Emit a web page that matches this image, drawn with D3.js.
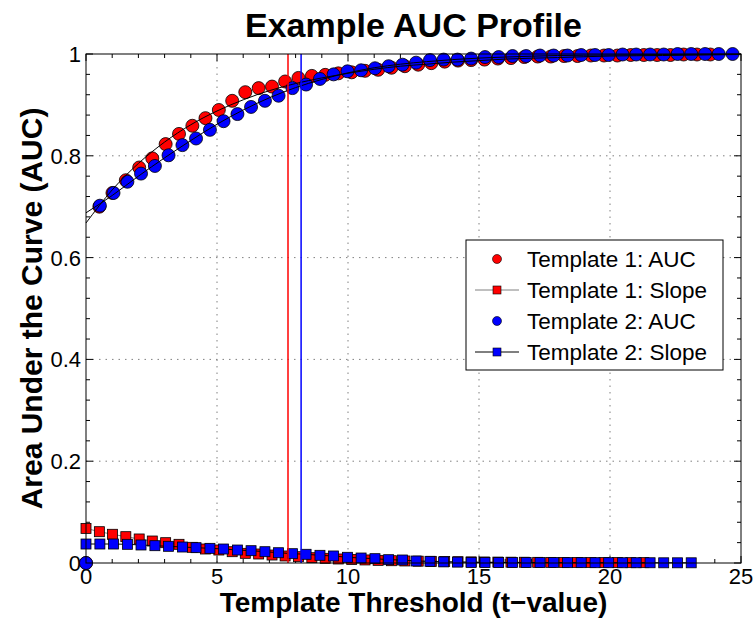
<!DOCTYPE html>
<html>
<head>
<meta charset="utf-8">
<script src="https://cdn.jsdelivr.net/npm/d3@7"></script>
<style>
  body { margin: 0; background: #fff; }
  svg { font-family: "Liberation Sans", Arial, Helvetica, sans-serif; }
</style>
</head>
<body>
<svg id="chart"></svg>
<script>
// thresholds (t-value) for each template
const thresholds1 = [0, 0.51, 1.01, 1.52, 2.03, 2.53, 3.04, 3.55, 4.06, 4.56, 5.07, 5.58, 6.08, 6.59, 7.10, 7.60,
  8.11, 8.62, 9.13, 9.63, 10.14, 10.65, 11.15, 11.66, 12.17, 12.68, 13.18, 13.69, 14.20, 14.70, 15.21, 15.72,
  16.22, 16.73, 17.24, 17.74, 18.25, 18.76, 19.27, 19.77, 20.28, 20.79, 21.29, 21.80, 22.31, 22.81, 23.32, 23.83];
const thresholds2 = [0, 0.53, 1.05, 1.58, 2.10, 2.63, 3.15, 3.68, 4.20, 4.73, 5.25, 5.78, 6.30, 6.83, 7.35, 7.88,
  8.40, 8.93, 9.45, 9.98, 10.50, 11.03, 11.55, 12.08, 12.60, 13.13, 13.65, 14.18, 14.70, 15.23, 15.75, 16.28,
  16.80, 17.33, 17.85, 18.38, 18.90, 19.43, 19.95, 20.48, 21.00, 21.53, 22.05, 22.58, 23.10, 23.63, 24.15, 24.68];

// AUC values
const auc1 = [0, 0.700, 0.727, 0.752, 0.777, 0.795, 0.823, 0.843, 0.859, 0.874, 0.890, 0.908, 0.925, 0.933, 0.936, 0.946,
  0.953, 0.957, 0.959, 0.962, 0.964, 0.967, 0.969, 0.973, 0.976, 0.979, 0.982, 0.985, 0.987, 0.988, 0.989, 0.991,
  0.992, 0.994, 0.995, 0.995, 0.996, 0.996, 0.997, 0.997, 0.997, 0.998, 0.998, 0.998, 0.998, 0.999, 0.999, 0.999];
const auc2 = [0, 0.702, 0.727, 0.749, 0.765, 0.780, 0.801, 0.821, 0.834, 0.851, 0.868, 0.882, 0.896, 0.908, 0.918, 0.933,
  0.940, 0.951, 0.960, 0.966, 0.968, 0.972, 0.976, 0.979, 0.983, 0.988, 0.989, 0.989, 0.991, 0.994, 0.994, 0.996,
  0.996, 0.997, 0.997, 0.997, 0.998, 0.998, 0.998, 0.999, 0.999, 0.999, 0.999, 1.000, 1.000, 1.000, 1.000, 1.000];

// slope of the AUC profile
const slope1 = [0.068, 0.0615, 0.0564, 0.0517, 0.0472, 0.0432, 0.0399, 0.0367, 0.0308, 0.0275, 0.0255, 0.0222, 0.019,
  0.0177, 0.0157, 0.0138, 0.0124, 0.0104, 0.0092, 0.0079, 0.007, 0.006, 0.0052, 0.0045, 0.004, 0.0036, 0.0032, 0.0028,
  0.0025, 0.0022, 0.002, 0.0018, 0.0016, 0.0015, 0.0013, 0.0012, 0.0011, 0.001, 0.0009, 0.0008, 0.0008, 0.0007, 0.0007];
const slope2 = [0.0373, 0.0373, 0.0373, 0.0367, 0.0354, 0.034, 0.0328, 0.0314, 0.0301, 0.0288, 0.0275, 0.0255, 0.0242,
  0.0222, 0.0202, 0.0183, 0.0171, 0.0151, 0.0138, 0.0112, 0.0098, 0.0085, 0.0065, 0.0059, 0.0039, 0.0033, 0.0022, 0.0018,
  0.0012, 0.001, 0.001, 0.0009, 0.0009, 0.0008, 0.0008, 0.0007, 0.0007, 0.0006, 0.0006, 0.0005, 0.0005, 0.0005, 0.0004,
  0.0004, 0.0004];

// fitted curves, sampled
const fitX = [0, 1, 2, 3, 4, 5, 6, 7, 8, 9, 10, 11, 12, 13, 14, 15, 16, 18, 20, 22, 25];
const fit1 = [0.668, 0.733, 0.785, 0.827, 0.861, 0.888, 0.910, 0.928, 0.942, 0.953, 0.962, 0.970, 0.976, 0.980, 0.984,
  0.987, 0.990, 0.993, 0.996, 0.997, 0.999];
const fit2 = [0.688, 0.722, 0.760, 0.796, 0.830, 0.862, 0.890, 0.914, 0.934, 0.950, 0.963, 0.973, 0.980, 0.985, 0.989,
  0.992, 0.994, 0.997, 0.998, 0.999, 1.000];

// chosen thresholds
const cutoff1 = 7.71;
const cutoff2 = 8.21;

const xTicks = [0, 5, 10, 15, 20, 25];
const yTicks = [0, 0.2, 0.4, 0.6, 0.8, 1];
const legendLabels = ['Template 1: AUC', 'Template 1: Slope', 'Template 2: AUC', 'Template 2: Slope'];

const width = 755, height = 625;
const margin = {top: 54, right: 14, bottom: 62, left: 86};
const w = width - margin.left - margin.right;
const h = height - margin.top - margin.bottom;

const svg = d3.select('#chart').attr('width', width).attr('height', height);
const g = svg.append('g').attr('transform', `translate(${margin.left},${margin.top})`);

const x = d3.scaleLinear().domain([0, 25]).range([0, w]);
const y = d3.scaleLinear().domain([0, 1]).range([h, 0]);

// grid
g.append('g').selectAll('line')
  .data(xTicks.slice(1, -1))
  .join('line')
  .attr('x1', d => x(d)).attr('x2', d => x(d))
  .attr('y1', 0).attr('y2', h)
  .attr('stroke', '#808080').attr('stroke-dasharray', '1.5,5');
g.append('g').selectAll('line')
  .data(yTicks.slice(1, -1))
  .join('line')
  .attr('y1', d => y(d)).attr('y2', d => y(d))
  .attr('x1', 0).attr('x2', w)
  .attr('stroke', '#808080').attr('stroke-dasharray', '1.5,5');

// ticks on all four sides, pointing inward
const xMinor = d3.range(0, 25.01, 1);
const yMinor = d3.range(0, 1.001, 0.04);
function ticks(values, scale, major, horizontal) {
  const grp = g.append('g').attr('stroke', '#000').attr('stroke-width', 1);
  values.forEach(v => {
    const len = major.some(m => Math.abs(m - v) < 1e-6) ? 7 : 4;
    const p = scale(v);
    if (horizontal) {
      grp.append('line').attr('x1', p).attr('x2', p).attr('y1', h).attr('y2', h - len);
      grp.append('line').attr('x1', p).attr('x2', p).attr('y1', 0).attr('y2', len);
    } else {
      grp.append('line').attr('y1', p).attr('y2', p).attr('x1', 0).attr('x2', len);
      grp.append('line').attr('y1', p).attr('y2', p).attr('x1', w).attr('x2', w - len);
    }
  });
}
ticks(xMinor, x, xTicks, true);
ticks(yMinor, y, yTicks, false);

// tick labels
g.append('g').selectAll('text')
  .data(xTicks)
  .join('text')
  .attr('x', d => x(d)).attr('y', h + 21)
  .attr('text-anchor', 'middle')
  .style('font-size', '22px')
  .text(d => d);
g.append('g').selectAll('text')
  .data(yTicks)
  .join('text')
  .attr('x', -5).attr('y', d => y(d) + 8)
  .attr('text-anchor', 'end')
  .style('font-size', '22px')
  .text(d => d);

// series as [threshold, value] pairs
const slopeLine = d3.line().x(d => x(d[0])).y(d => y(d[1]));
const s1 = slope1.map((v, i) => [thresholds1[i], v]);
const s2 = slope2.map((v, i) => [thresholds2[i], v]);
const a1 = auc1.map((v, i) => [thresholds1[i], v]);
const a2 = auc2.map((v, i) => [thresholds2[i], v]);

function drawAuc(data, color) {
  g.append('g').selectAll('circle')
    .data(data)
    .join('circle')
    .attr('cx', d => x(d[0])).attr('cy', d => y(d[1]))
    .attr('r', 6.5)
    .attr('fill', color).attr('stroke', '#000').attr('stroke-width', 0.8);
}
function drawSlope(data, color, lineColor) {
  g.append('path')
    .datum(data)
    .attr('d', slopeLine)
    .attr('fill', 'none').attr('stroke', lineColor).attr('stroke-width', 1);
  g.append('g').selectAll('rect')
    .data(data)
    .join('rect')
    .attr('x', d => x(d[0]) - 5).attr('y', d => y(d[1]) - 5)
    .attr('width', 10).attr('height', 10)
    .attr('fill', color).attr('stroke', '#000').attr('stroke-width', 0.8);
}

drawAuc(a1, '#ff0000');
drawSlope(s1, '#ff0000', '#808080');
drawAuc(a2, '#0000ff');
drawSlope(s2, '#0000ff', '#000');

// fitted curves
const fitLine = d3.line().x((d, i) => x(fitX[i])).y(d => y(d)).curve(d3.curveMonotoneX);
[fit1, fit2].forEach(f => {
  g.append('path').datum(f).attr('d', fitLine)
    .attr('fill', 'none').attr('stroke', '#000').attr('stroke-width', 1);
});

// cutoff lines
[[cutoff1, '#ff0000'], [cutoff2, '#0000ff']].forEach(([c, col]) => {
  g.append('line')
    .attr('x1', x(c)).attr('x2', x(c))
    .attr('y1', 0).attr('y2', h)
    .attr('stroke', col).attr('stroke-width', 1.5);
});

// axes box
g.append('rect').attr('width', w).attr('height', h)
  .attr('fill', 'none').attr('stroke', '#000').attr('stroke-width', 1);

// legend
const legend = svg.append('g').attr('transform', 'translate(466,240)');
legend.append('rect').attr('width', 257).attr('height', 130)
  .attr('fill', '#fff').attr('stroke', '#000').attr('stroke-width', 1);
const rows = [
  {fill: '#ff0000', marker: 'circle', line: null},
  {fill: '#ff0000', marker: 'square', line: '#808080'},
  {fill: '#0000ff', marker: 'circle', line: null},
  {fill: '#0000ff', marker: 'square', line: '#000'}
];
rows.forEach((r, i) => {
  const cy = 19 + i * 31;
  if (r.line) {
    legend.append('line').attr('x1', 9).attr('x2', 53).attr('y1', cy).attr('y2', cy)
      .attr('stroke', r.line).attr('stroke-width', 1);
  }
  if (r.marker === 'circle') {
    legend.append('circle').attr('cx', 31).attr('cy', cy).attr('r', 4.5)
      .attr('fill', r.fill).attr('stroke', '#000').attr('stroke-width', 0.6);
  } else {
    legend.append('rect').attr('x', 27).attr('y', cy - 4).attr('width', 8).attr('height', 8)
      .attr('fill', r.fill).attr('stroke', '#000').attr('stroke-width', 0.6);
  }
  legend.append('text').attr('x', 61).attr('y', cy + 8)
    .style('font-size', '22.5px')
    .text(legendLabels[i]);
});

// title and axis labels
svg.append('text')
  .attr('x', margin.left + w / 2).attr('y', 37)
  .attr('text-anchor', 'middle')
  .style('font-size', '34px').style('font-weight', 'bold')
  .text('Example AUC Profile');
svg.append('text')
  .attr('x', margin.left + w / 2).attr('y', 612)
  .attr('text-anchor', 'middle')
  .style('font-size', '28px').style('font-weight', 'bold')
  .text('Template Threshold (t−value)');
svg.append('text')
  .attr('transform', `translate(42,${margin.top + h / 2}) rotate(-90)`)
  .attr('text-anchor', 'middle')
  .style('font-size', '30px').style('font-weight', 'bold')
  .text('Area Under the Curve (AUC)');
</script>
</body>
</html>
